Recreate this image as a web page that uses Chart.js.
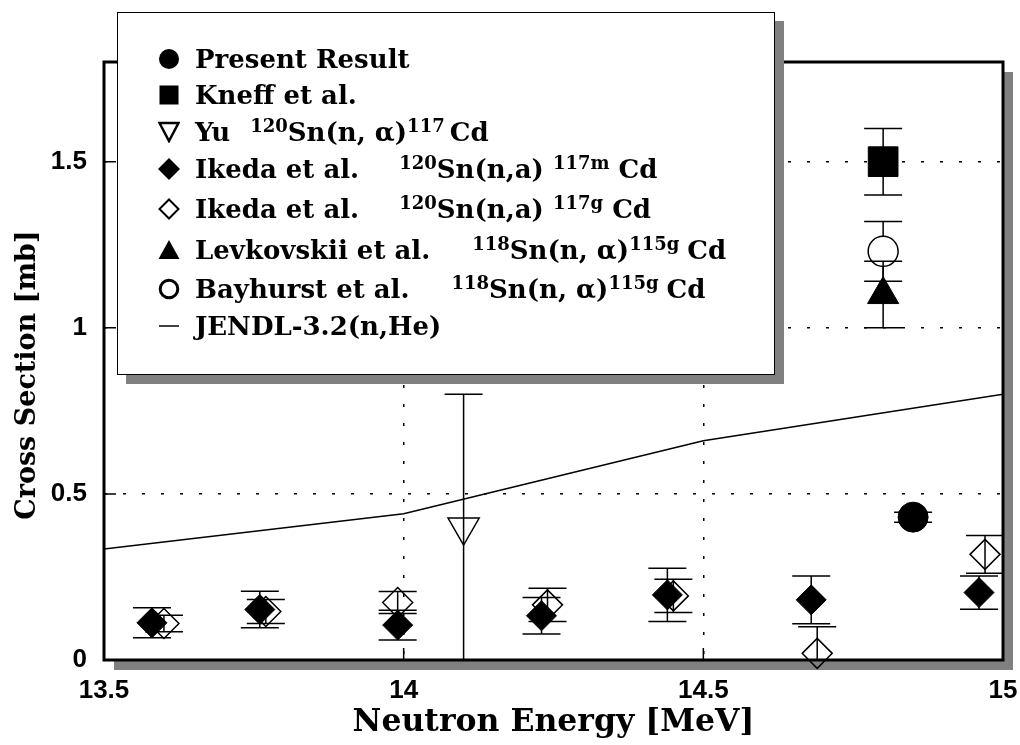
<!DOCTYPE html>
<html>
<head>
<meta charset="utf-8">
<script src="https://cdn.jsdelivr.net/npm/chart.js@4.4.0/dist/chart.umd.min.js"></script>
<style>
  body { margin: 0; background: #fff; }
  #wrap { position: relative; width: 1020px; height: 745px; }
  #legend {
    position: absolute; left: 117px; top: 12px; width: 656px; height: 361px;
    border: 1.5px solid #000; background: #fff; box-shadow: 9px 9px 0 #808080;
    font-family: "DejaVu Serif"; font-weight: bold; font-size: 26px; color: #000;
  }
  .row { position: absolute; left: 0; width: 100%; height: 40px; line-height: 40px; white-space: nowrap; }
  .row svg { position: absolute; left: 40px; top: 9px; }
  .row .t { position: absolute; left: 77px; top: 0; }
  .s { font-size: 18px; position: relative; top: -9px; line-height: 0; }
</style>
</head>
<body>
<div id="wrap">
  <canvas id="chart" width="1020" height="745"></canvas>
  <div id="legend">
    <div class="row" style="top:25.5px">
      <svg width="22" height="22"><circle cx="11" cy="11" r="10" fill="#000"/></svg>
      <span class="t">Present Result</span>
    </div>
    <div class="row" style="top:61.5px">
      <svg width="22" height="22"><rect x="1.5" y="1.5" width="19" height="19" fill="#000"/></svg>
      <span class="t">Kneff et al.</span>
    </div>
    <div class="row" style="top:98.5px">
      <svg width="22" height="22"><polygon points="1.5,2 20.5,2 11,20" fill="none" stroke="#000" stroke-width="2.5"/></svg>
      <span class="t">Yu<span class="s" style="margin-left:20px">120</span>Sn(n, α)<span class="s" style="margin-right:5px">117</span>Cd</span>
    </div>
    <div class="row" style="top:135.5px">
      <svg width="22" height="22"><polygon points="11,0 22,11 11,22 0,11" fill="#000"/></svg>
      <span class="t">Ikeda et al.<span class="s" style="margin-left:40px">120</span>Sn(n,a) <span class="s">117m</span> Cd</span>
    </div>
    <div class="row" style="top:175.5px">
      <svg width="22" height="22"><polygon points="11,1.5 20.5,11 11,20.5 1.5,11" fill="none" stroke="#000" stroke-width="2"/></svg>
      <span class="t">Ikeda et al.<span class="s" style="margin-left:40px">120</span>Sn(n,a) <span class="s">117g</span> Cd</span>
    </div>
    <div class="row" style="top:216.5px">
      <svg width="22" height="22"><polygon points="11,1 21.5,20 0.5,20" fill="#000"/></svg>
      <span class="t">Levkovskii et al.<span class="s" style="margin-left:42px">118</span>Sn(n, α)<span class="s" style="margin-right:8px">115g</span>Cd</span>
    </div>
    <div class="row" style="top:255.5px">
      <svg width="22" height="22"><circle cx="11" cy="11" r="8.8" fill="none" stroke="#000" stroke-width="3"/></svg>
      <span class="t">Bayhurst et al.<span class="s" style="margin-left:42px">118</span>Sn(n, α)<span class="s" style="margin-right:8px">115g</span>Cd</span>
    </div>
    <div class="row" style="top:292.5px">
      <svg width="22" height="22"><line x1="1" y1="11" x2="21" y2="11" stroke="#000" stroke-width="1.5"/></svg>
      <span class="t">JENDL-3.2(n,He)</span>
    </div>
  </div>
</div>
<script>
// JENDL-3.2 (n,He) evaluation
const jendlEnergy = [13.5, 14.0, 14.5, 15.0];
const jendlXS = [0.334, 0.44, 0.66, 0.80];

// present result
const presentEnergy = [14.85];
const presentXS = [0.43];
const presentErr = [0.015];

// Kneff et al.
const kneffEnergy = [14.8];
const kneffXS = [1.5];
const kneffErr = [0.1];

// Yu 120Sn(n,a)117Cd
const yuEnergy = [14.1];
const yuXS = [0.4];
const yuErr = [0.4];

// Ikeda et al. 117mCd
const ikedaMEnergy = [13.58, 13.76, 13.99, 14.23, 14.44, 14.68, 14.96];
const ikedaMXS = [0.112, 0.152, 0.105, 0.133, 0.196, 0.181, 0.203];
const ikedaMErr = [0.045, 0.055, 0.045, 0.055, 0.08, 0.072, 0.05];

// Ikeda et al. 117gCd
const ikedaGEnergy = [13.60, 13.77, 13.99, 14.24, 14.45, 14.69, 14.97];
const ikedaGXS = [0.110, 0.146, 0.173, 0.166, 0.193, 0.02, 0.318];
const ikedaGErr = [0.025, 0.036, 0.033, 0.05, 0.05, 0.08, 0.057];

// Levkovskii et al. / Bayhurst et al. 118Sn(n,a)115gCd
const levEnergy = [14.8];
const levXS = [1.1];
const levErr = [0.1];
const bayEnergy = [14.8];
const bayXS = [1.23];
const bayErr = [0.09];

const xTicks = [13.5, 14, 14.5, 15];
const yTicks = [0, 0.5, 1, 1.5];

function pts(xs, ys) {
  return xs.map((x, i) => ({x: x, y: ys[i]}));
}

// keep the plot box at a fixed right edge, whatever the tick labels want
const fixArea = {
  id: 'fixArea',
  afterLayout(chart) {
    const a = chart.chartArea, xs = chart.scales.x;
    a.right = chart.width - 17;
    a.width = a.right - a.left;
    xs.right = a.right;
    xs.width = a.width;
    xs.configure();
  }
};

// vertical error bars with caps, drawn just before each dataset's markers
const errorBars = {
  id: 'errorBars',
  beforeDatasetDraw(chart, args) {
    const ds = chart.data.datasets[args.index];
    if (!ds.errors) return;
    const {ctx, chartArea: a} = chart;
    const x = chart.scales.x, y = chart.scales.y;
    ctx.save();
    ctx.beginPath();
    ctx.rect(a.left, a.top, a.right - a.left, a.bottom - a.top);
    ctx.clip();
    ctx.strokeStyle = '#000';
    ctx.lineWidth = 1.5;
    ds.data.forEach((p, i) => {
      const px = x.getPixelForValue(p.x);
      const top = y.getPixelForValue(p.y + ds.errors[i]);
      const bot = y.getPixelForValue(p.y - ds.errors[i]);
      ctx.beginPath();
      ctx.moveTo(px, top); ctx.lineTo(px, bot);
      ctx.moveTo(px - 19, top); ctx.lineTo(px + 19, top);
      ctx.moveTo(px - 19, bot); ctx.lineTo(px + 19, bot);
      ctx.stroke();
    });
    ctx.restore();
  }
};

// white plot box with grey drop shadow, thick frame and inward ticks
const frame = {
  id: 'frame',
  beforeDraw(chart) {
    const {ctx, chartArea: a} = chart;
    ctx.save();
    ctx.fillStyle = '#808080';
    ctx.fillRect(a.left + 10, a.top + 10, a.right - a.left, a.bottom - a.top);
    ctx.fillStyle = '#fff';
    ctx.fillRect(a.left, a.top, a.right - a.left, a.bottom - a.top);
    ctx.restore();
  },
  beforeDatasetsDraw(chart) {
    const {ctx, chartArea: a} = chart;
    const x = chart.scales.x, y = chart.scales.y;
    ctx.save();
    ctx.strokeStyle = '#000';
    ctx.lineWidth = 1.5;
    ctx.beginPath();
    x.ticks.forEach(t => {
      const px = x.getPixelForValue(t.value);
      ctx.moveTo(px, a.bottom); ctx.lineTo(px, a.bottom - 12);
    });
    y.ticks.forEach(t => {
      const py = y.getPixelForValue(t.value);
      ctx.moveTo(a.left, py); ctx.lineTo(a.left + 12, py);
    });
    ctx.stroke();
    ctx.lineWidth = 3;
    ctx.strokeRect(a.left, a.top, a.right - a.left, a.bottom - a.top);
    ctx.restore();
  }
};

const clear = 'rgba(0,0,0,0)';
const serif = 'DejaVu Serif';
const tickFont = { family: 'Liberation Sans', weight: 'bold', size: 26 };

const ctx = document.getElementById('chart').getContext('2d');
new Chart(ctx, {
  type: 'scatter',
  data: {
    datasets: [
      {
        label: 'JENDL-3.2(n,He)', data: pts(jendlEnergy, jendlXS),
        showLine: true, borderColor: '#000', borderWidth: 1.5, pointRadius: 0, order: 9
      },
      {
        label: 'Ikeda 117g', data: pts(ikedaGEnergy, ikedaGXS), errors: ikedaGErr,
        pointStyle: 'rectRot', pointRadius: 15, pointBackgroundColor: clear,
        pointBorderColor: '#000', pointBorderWidth: 1.5, clip: false, order: 8
      },
      {
        label: 'Ikeda 117m', data: pts(ikedaMEnergy, ikedaMXS), errors: ikedaMErr,
        pointStyle: 'rectRot', pointRadius: 15, pointBackgroundColor: '#000',
        pointBorderColor: '#000', pointBorderWidth: 1, clip: false, order: 7
      },
      {
        label: 'Yu', data: pts(yuEnergy, yuXS), errors: yuErr,
        pointStyle: 'triangle', pointRotation: 180, pointRadius: 18,
        pointBackgroundColor: clear, pointBorderColor: '#000', pointBorderWidth: 1.5, order: 6
      },
      {
        label: 'Bayhurst', data: pts(bayEnergy, bayXS), errors: bayErr,
        pointStyle: 'circle', pointRadius: 15, pointBackgroundColor: '#fff',
        pointBorderColor: '#000', pointBorderWidth: 1.5, order: 5
      },
      {
        label: 'Levkovskii', data: pts(levEnergy, levXS), errors: levErr,
        pointStyle: 'triangle', pointRadius: 18, pointBackgroundColor: '#000',
        pointBorderColor: '#000', pointBorderWidth: 1, order: 4
      },
      {
        label: 'Kneff', data: pts(kneffEnergy, kneffXS), errors: kneffErr,
        pointStyle: 'rect', pointRadius: 21, pointBackgroundColor: '#000',
        pointBorderColor: '#000', pointBorderWidth: 1, order: 3
      },
      {
        label: 'Present Result', data: pts(presentEnergy, presentXS), errors: presentErr,
        pointStyle: 'circle', pointRadius: 15, pointBackgroundColor: '#000',
        pointBorderColor: '#000', pointBorderWidth: 1, order: 2
      }
    ]
  },
  options: {
    responsive: false,
    animation: false,
    devicePixelRatio: 1,
    events: [],
    layout: { padding: { top: 62, right: 17, left: 0, bottom: 0 } },
    plugins: { legend: { display: false }, tooltip: { enabled: false } },
    scales: {
      x: {
        type: 'linear', min: 13.5, max: 15,
        afterFit: s => { s.height = 85; },
        afterBuildTicks: s => { s.ticks = xTicks.map(v => ({value: v})); },
        grid: { color: '#000', lineWidth: 1.5, drawTicks: false },
        border: { display: false, dash: [3, 16] },
        ticks: {
          color: '#000', padding: 15, maxRotation: 0, font: tickFont,
          callback: v => String(v)
        },
        title: {
          display: true, text: 'Neutron Energy [MeV]', color: '#000',
          font: { family: serif, weight: 'bold', size: 31.5 },
          padding: { top: 0, bottom: 3 }
        }
      },
      y: {
        type: 'linear', min: 0, max: 1.8,
        afterFit: s => { s.width = 104; },
        afterBuildTicks: s => { s.ticks = yTicks.map(v => ({value: v})); },
        grid: { color: '#000', lineWidth: 1.5, drawTicks: false },
        border: { display: false, dash: [3, 16] },
        ticks: {
          color: '#000', padding: 17, font: tickFont,
          callback: v => String(v)
        },
        title: {
          display: true, text: 'Cross Section [mb]   ', color: '#000',
          font: { family: serif, weight: 'bold', size: 27 },
          padding: { top: 12, bottom: 0 }
        }
      }
    }
  },
  plugins: [fixArea, frame, errorBars]
});
</script>
</body>
</html>
